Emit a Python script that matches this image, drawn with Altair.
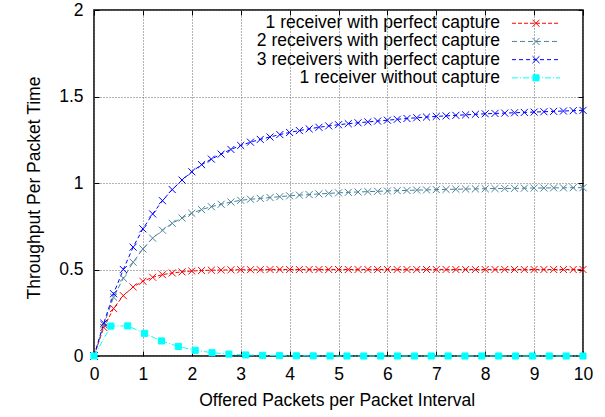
import altair as alt
import pandas as pd

FONT = "Liberation Sans"

series_names = [
    "1 receiver with perfect capture",
    "2 receivers with perfect capture",
    "3 receivers with perfect capture",
    "1 receiver without capture",
]
marker_keys = ["m1", "m2", "m3", "m4"]
colors = ["#ff0000", "#4a8399", "#0000ff", "#00ffff"]
dashes = [[4, 2], [5, 3], [4, 3], [6, 2, 1, 2]]
fills = ["transparent", "transparent", "transparent", "#00ffff"]
CROSS = "M-0.44,-0.44L0.44,0.44M-0.44,0.44L0.44,-0.44"
SQUARE = "M-0.38,-0.38H0.38V0.38H-0.38Z"
shapes = [CROSS, CROSS, CROSS, SQUARE]

x_ticks = list(range(11))
y_ticks = [0, 0.5, 1, 1.5, 2]

# offered load (x) sample points
x_capture = [round(0.2 * i, 1) for i in range(51)]
x_nocap = [round(10 * i / 29, 4) for i in range(30)]

y_1rx = [0, 0.165, 0.275, 0.349, 0.399, 0.432, 0.455, 0.470, 0.480, 0.486,
         0.491, 0.494, 0.496, 0.497, 0.498, 0.499, 0.499, 0.499] + [0.5] * 33

y_2rx = [0, 0.18, 0.34, 0.45, 0.542, 0.619, 0.681, 0.727, 0.767, 0.798,
         0.825, 0.846, 0.863, 0.877, 0.890, 0.900, 0.906, 0.911, 0.916, 0.921,
         0.926, 0.930, 0.933, 0.937, 0.940, 0.943, 0.946, 0.948, 0.950, 0.952,
         0.954, 0.956, 0.957, 0.959, 0.960, 0.962, 0.963, 0.964, 0.965, 0.966,
         0.967, 0.968, 0.968, 0.969, 0.970, 0.971, 0.971, 0.972, 0.972, 0.973,
         0.973]

y_3rx = [0, 0.19, 0.36, 0.50, 0.629, 0.735, 0.821, 0.898, 0.962, 1.017,
         1.065, 1.106, 1.138, 1.167, 1.194, 1.217, 1.236, 1.252, 1.266, 1.280,
         1.292, 1.303, 1.313, 1.322, 1.330, 1.337, 1.343, 1.348, 1.353, 1.358,
         1.363, 1.368, 1.373, 1.377, 1.381, 1.385, 1.388, 1.391, 1.394, 1.397,
         1.400, 1.402, 1.404, 1.406, 1.408, 1.410, 1.412, 1.414, 1.416, 1.418,
         1.420]

y_nocap = [0, 0.173, 0.174, 0.131, 0.087, 0.055, 0.033, 0.019, 0.011, 0.006,
           0.004, 0.002, 0.001, 0.001] + [0] * 16

rows = []
for name, mk, xs, ys in [
    (series_names[0], marker_keys[0], x_capture, y_1rx),
    (series_names[1], marker_keys[1], x_capture, y_2rx),
    (series_names[2], marker_keys[2], x_capture, y_3rx),
    (series_names[3], marker_keys[3], x_nocap, y_nocap),
]:
    for i, (xv, yv) in enumerate(zip(xs, ys)):
        rows.append({"series": name, "mk": mk, "x": xv, "y": yv, "i": i})
df = pd.DataFrame(rows)

common_axis = dict(
    labelFont=FONT, labelFontSize=17.5, labelColor="black", labelFlush=False,
    titleFont=FONT, titleFontSize=17.5, titleFontWeight="normal", titleColor="black",
    tickColor="black", tickWidth=1, tickSize=5, offset=-5, domain=False,
    format="~r",
)

xscale = alt.Scale(domain=[0, 10], nice=False, zero=False)
yscale = alt.Scale(domain=[0, 2], nice=False, zero=False)

LX, LY = 433.25, 4.5

leg_lines = alt.Legend(
    title=None, orient="none", legendX=LX, legendY=LY, padding=0,
    symbolType="M-3,0H3", symbolSize=256, symbolStrokeWidth=1, symbolOffset=0,
    labelAlign="right", labelOffset={"expr": "-44.75"}, labelFont=FONT, labelFontSize=17.5,
    labelColor="black", labelLimit=0, rowPadding={"expr": "-0.8"},
)
leg_marks = alt.Legend(
    title=None, orient="none", legendX=LX, legendY=LY, padding=0,
    symbolSize=256, symbolStrokeWidth=1, symbolOffset=0,
    labelAlign="right", labelOffset={"expr": "-44.75"}, labelExpr="' '",
    labelFont=FONT, labelFontSize=17.5, labelLimit=0, rowPadding={"expr": "-0.8"},
)

lines = alt.Chart(df).mark_line(strokeWidth=1).encode(
    x=alt.X("x:Q", scale=xscale, axis=alt.Axis(
        orient="bottom", values=x_ticks, grid=True, gridDash=[1, 2], gridColor="#666666",
        labelPadding=9.5, title="Offered Packets per Packet Interval",
        titleX=242.7, titleY=54, titleAlign="center", titleBaseline="alphabetic",
        **common_axis)),
    y=alt.Y("y:Q", scale=yscale, axis=alt.Axis(
        orient="left", values=y_ticks, grid=True, gridDash=[1, 2], gridColor="#666666",
        labelPadding=11, title="Throughput Per Packet Time",
        titleX=-60, titleY=177.5, titleAlign="center", titleBaseline="alphabetic",
        titleAngle=270, **common_axis)),
    color=alt.Color("series:N", scale=alt.Scale(domain=series_names, range=colors), legend=leg_lines),
    strokeDash=alt.StrokeDash("series:N", scale=alt.Scale(domain=series_names, range=dashes), legend=leg_lines),
    order="i:Q",
)

points = alt.Chart(df).mark_point(size=256, strokeWidth=1, filled=False, opacity=1).encode(
    x=alt.X("x:Q", scale=xscale, axis=alt.Axis(
        orient="top", values=x_ticks, grid=False, labels=False, title=None, **common_axis)),
    y=alt.Y("y:Q", scale=yscale, axis=alt.Axis(
        orient="right", values=y_ticks, grid=False, labels=False, title=None, **common_axis)),
    stroke=alt.Stroke("mk:N", scale=alt.Scale(domain=marker_keys, range=colors), legend=leg_marks),
    fill=alt.Fill("mk:N", scale=alt.Scale(domain=marker_keys, range=fills), legend=leg_marks),
    shape=alt.Shape("mk:N", scale=alt.Scale(domain=marker_keys, range=shapes), legend=leg_marks),
)

chart = alt.layer(lines, points).resolve_axis(x="independent", y="independent").properties(
    width=489, height=346,
    autosize=alt.AutoSizeParams(type="none"),
    padding={"left": 94, "top": 10, "right": 22, "bottom": 61},
    background="white",
).configure_view(stroke="black", strokeWidth=1.5)

chart.save("out.html", embed_options={"renderer": "svg", "actions": False})
